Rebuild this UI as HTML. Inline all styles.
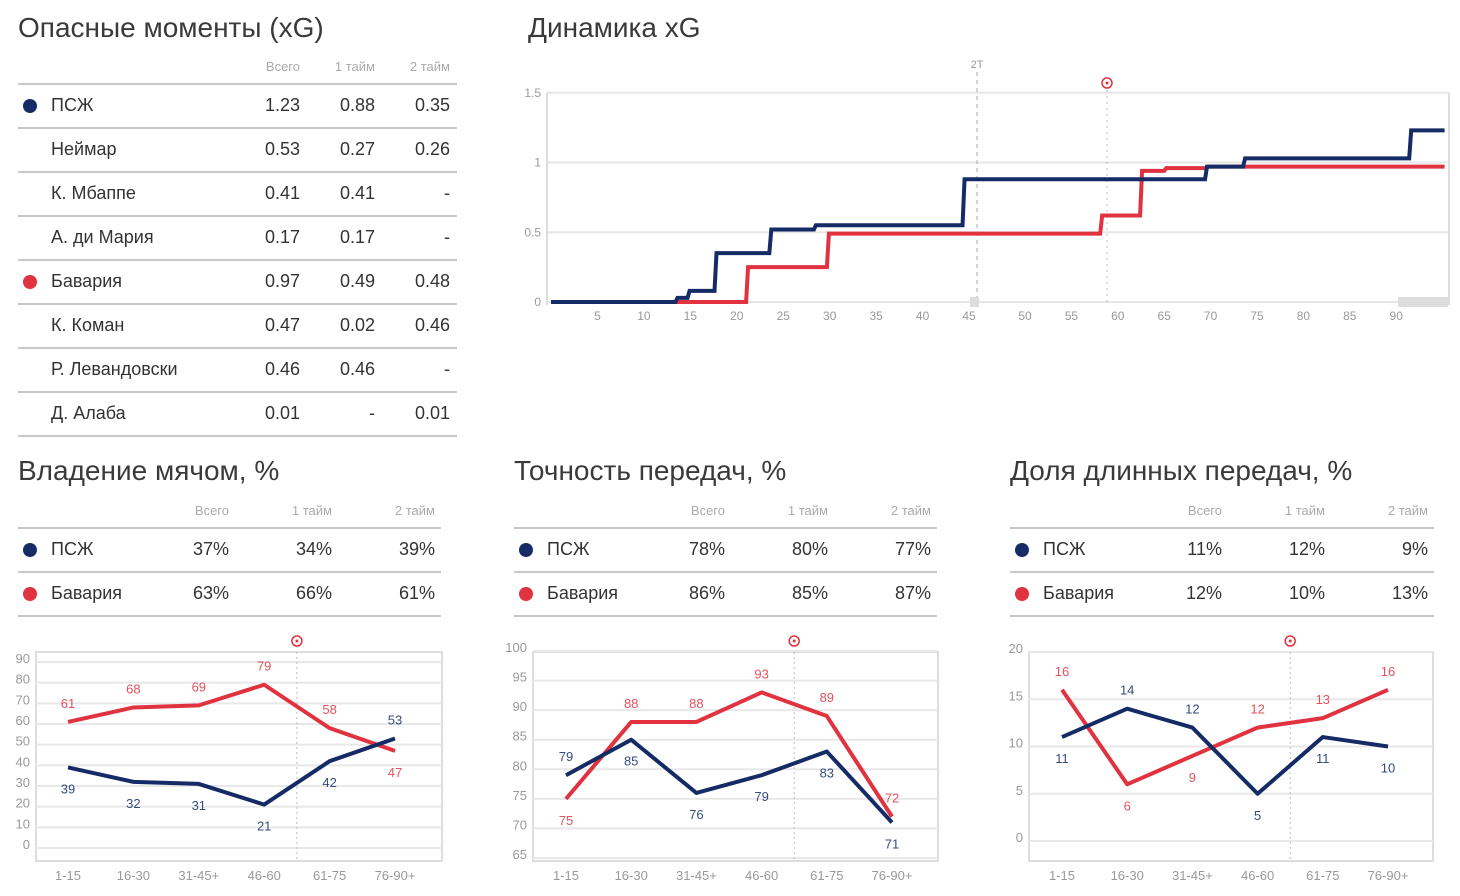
<!DOCTYPE html>
<html><head><meta charset="utf-8">
<style>
body{margin:0;width:1460px;height:896px;background:#fff;font-family:"Liberation Sans","Noto Sans CJK SC",sans-serif;color:#333;position:relative;overflow:hidden}
.t{position:absolute;font-size:28px;color:#3a3a3a;white-space:nowrap}
.tbl{position:absolute;height:10px}
.hd{position:absolute;font-size:13px;color:#aaa;white-space:nowrap}
.row{position:absolute;left:0;height:44px;border-bottom:2px solid #c8c8c8;box-sizing:border-box}
.cell{position:absolute;font-size:18px;color:#333;top:10px;white-space:nowrap}
.dot{position:absolute;width:14px;height:14px;border-radius:50%;top:14px;left:5px}
svg text{font-family:"Liberation Sans",sans-serif}
</style></head><body>
<div class="t" style="left:18px;top:12px">Опасные моменты (xG)</div>
<div class="t" style="left:528px;top:12px">Динамика xG</div>
<div class="t" style="left:18px;top:455px">Владение мячом, %</div>
<div class="t" style="left:514px;top:455px">Точность передач, %</div>
<div class="t" style="left:1010px;top:455px">Доля длинных передач, %</div>

<div id="tables"></div>
<svg id="sv" width="1460" height="896" style="position:absolute;left:0;top:0"></svg>

<script>
const NAVY="#142b66", RED="#e0323f";
// ---------- tables ----------
const xgRows=[["ПСЖ","1.23","0.88","0.35","n"],["Неймар","0.53","0.27","0.26",""],["К. Мбаппе","0.41","0.41","-",""],["А. ди Мария","0.17","0.17","-",""],["Бавария","0.97","0.49","0.48","r"],["К. Коман","0.47","0.02","0.46",""],["Р. Левандовски","0.46","0.46","-",""],["Д. Алаба","0.01","-","0.01",""]];
const possRows=[["ПСЖ","37%","34%","39%","n"],["Бавария","63%","66%","61%","r"]];
const passRows=[["ПСЖ","78%","80%","77%","n"],["Бавария","86%","85%","87%","r"]];
const longRows=[["ПСЖ","11%","12%","9%","n"],["Бавария","12%","10%","13%","r"]];
const T=document.getElementById('tables');
function table(name,left,top,width,cols,rows){
  const d=document.createElement('div');d.className='tbl';d.style.left=left+'px';d.style.top=top+'px';d.style.width=width+'px';
  
  
  const hn=["Всего","1 тайм","2 тайм"];
  hn.forEach((h,i)=>{const e=document.createElement('div');e.className='hd';e.textContent=h;e.style.left=(cols[i]-80)+'px';e.style.top='-4px';e.style.width='80px';e.style.textAlign='right';
    
    
    d.appendChild(e);});
  const line=document.createElement('div');line.style.cssText='position:absolute;left:0;top:20px;width:'+width+'px;border-top:2px solid #c8c8c8';d.appendChild(line);
  rows.forEach((r,k)=>{const rw=document.createElement('div');rw.className='row';rw.style.top=(22+k*44)+'px';rw.style.width=width+'px';
    
    
    if(r[4]){const dt=document.createElement('div');dt.className='dot';dt.style.background=r[4]=='n'?NAVY:RED;
      
      
      rw.appendChild(dt);}
    const nm=document.createElement('div');nm.className='cell';nm.style.left='33px';nm.textContent=r[0];
    
    
    rw.appendChild(nm);
    for(let i=0;i<3;i++){const c=document.createElement('div');c.className='cell';c.style.left=(cols[i]-80)+'px';c.style.width='80px';c.style.textAlign='right';c.textContent=r[i+1];
      
      
      rw.appendChild(c);}
    d.appendChild(rw);});
  T.appendChild(d);
}
table('xg-table',18,63,439,[282,357,432],xgRows);
table('possession-table',18,507,423,[211,314,417],possRows);
table('pass-accuracy-table',514,507,423,[211,314,417],passRows);
table('long-pass-table',1010,507,424,[212,315,418],longRows);

// ---------- charts ----------
const S=document.getElementById('sv');const NS="http://www.w3.org/2000/svg";
function el(tag,attrs,txt){const e=document.createElementNS(NS,tag);for(const k in attrs)e.setAttribute(k,attrs[k]);if(txt!=null)e.textContent=txt;S.appendChild(e);return e;}

// xG dynamics data
const xgTicksY=[0,0.5,1,1.5];
const xgTicksX1=[5,10,15,20,25,30,35,40,45];
const xgTicksX2=[50,55,60,65,70,75,80,85,90];
const psgMin=[0,13.4,14.7,17.6,23.5,28.3,44.3,69.4,73.5,91.4,95];
const psgXg=[0,0.03,0.08,0.35,0.52,0.55,0.88,0.97,1.03,1.23,1.23];
const bayMin=[0,21,29.7,58.1,62.4,65,69.5,95];
const bayXg=[0,0.25,0.49,0.62,0.94,0.96,0.97,0.97];
const xgY=v=>302-v*139.5;
const xgX=m=>m<=45?551+m*9.29:(m<50?977+(m-45)*9.6:1025+(m-50)*9.28);
xgTicksY.forEach(v=>{const l=el('line',{x1:547,x2:1449,y1:xgY(v),y2:xgY(v),stroke:'#e6e6e6','stroke-width':2});
  
  
  const t=el('text',{x:541,y:xgY(v)+4,'text-anchor':'end','font-size':12,fill:'#999'},v);
  
  });
el('line',{x1:547,x2:547,y1:93,y2:305,stroke:'#ddd','stroke-width':2});
el('line',{x1:1449,x2:1449,y1:93,y2:305,stroke:'#ddd','stroke-width':2});
xgTicksX1.concat(xgTicksX2).forEach(m=>{const t=el('text',{x:xgX(m),y:320,'text-anchor':'middle','font-size':12,fill:'#999'},m);
  
  });
el('line',{x1:977,x2:977,y1:72,y2:305,stroke:'#aaa','stroke-dasharray':'4,4'});
el('text',{x:977,y:68,'text-anchor':'middle','font-size':11,fill:'#999'},'2T');
el('line',{x1:1107,x2:1107,y1:90,y2:305,stroke:'#bbb','stroke-dasharray':'2,4'});
el('circle',{cx:1107,cy:83,r:5,fill:'none',stroke:RED,'stroke-width':1.5});
el('circle',{cx:1107,cy:83,r:1.5,fill:RED});
el('rect',{x:970,y:297,width:9,height:10,fill:'#ddd'});
el('rect',{x:1398,y:297,width:50,height:10,fill:'#ddd'});
function stepPath(ms,vs){let d='M'+xgX(ms[0])+','+xgY(vs[0]);for(let i=1;i<ms.length;i++){d+=' L'+xgX(ms[i])+','+xgY(vs[i-1])+' L'+(xgX(ms[i])+2)+','+xgY(vs[i]);}return d;}
const pr=el('path',{d:stepPath(bayMin,bayXg),fill:'none',stroke:RED,'stroke-width':4});


const pb=el('path',{d:stepPath(psgMin,psgXg),fill:'none',stroke:NAVY,'stroke-width':4});



// small charts data
const periods=["1-15","16-30","31-45+","46-60","61-75","76-90+"];
const possPsg=[39,32,31,21,42,53];
const possBay=[61,68,69,79,58,47];
const possTicks=[0,10,20,30,40,50,60,70,80,90];
const passPsg=[79,85,76,79,83,71];
const passBay=[75,88,88,93,89,72];
const passTicks=[65,70,75,80,85,90,95,100];
const longPsg=[11,14,12,5,11,10];
const longBay=[16,6,9,12,13,16];
const longTicks=[0,5,10,15,20];

function small(name,x0,x1,ticks,ymin,ymax,yTop,yBot,cx0,dx,psg,bay,psgBelow,bayBelow){
  const Y=v=>yBot-(v-ymin)/(ymax-ymin)*(yBot-yTop);
  const X=i=>cx0+i*dx;
  el('rect',{x:x0,y:652,width:x1-x0,height:209,fill:'none',stroke:'#ddd','stroke-width':2});
  ticks.forEach(v=>{const l=el('line',{x1:x0,x2:x1,y1:Y(v),y2:Y(v),stroke:'#e8e8e8','stroke-width':2});
    
    
    const t=el('text',{x:x0-6,y:Y(v)+1,'text-anchor':'end','font-size':13,fill:'#999'},v);
    
    });
  periods.forEach((p,i)=>{const t=el('text',{x:X(i),y:880,'text-anchor':'middle','font-size':13,fill:'#999'},p);
    
    });
  const gx=X(3.5);
  el('line',{x1:gx,x2:gx,y1:652,y2:861,stroke:'#bbb','stroke-dasharray':'2,3'});
  el('circle',{cx:gx,cy:641,r:5,fill:'none',stroke:RED,'stroke-width':1.5});
  el('circle',{cx:gx,cy:641,r:1.5,fill:RED});
  [[bay,RED,'bayern',bayBelow],[psg,NAVY,'psg',psgBelow]].forEach(([vals,col,tm,below])=>{
    const pl=el('polyline',{points:vals.map((v,i)=>X(i)+','+Y(v)).join(' '),fill:'none',stroke:col,'stroke-width':4,'stroke-linejoin':'round'});
    
    
    vals.forEach((v,i)=>{const t=el('text',{x:X(i),y:Y(v)+(below[i]?26:-14),'text-anchor':'middle','font-size':13,fill:col,opacity:0.85},v);
      
      });
  });
}
small('possession',36,442,possTicks,0,90,662,848,68,65.4,possPsg,possBay,[1,1,1,1,1,0],[0,0,0,0,0,1]);
small('pass-accuracy',533,938,passTicks,65,100,651,858,566,65.2,passPsg,passBay,[0,1,1,1,1,1],[1,0,0,0,0,0]);
small('long-pass',1029,1433,longTicks,0,20,652,841,1062,65.2,longPsg,longBay,[1,0,0,1,1,1],[0,1,1,0,0,0]);
</script>
</body></html>
